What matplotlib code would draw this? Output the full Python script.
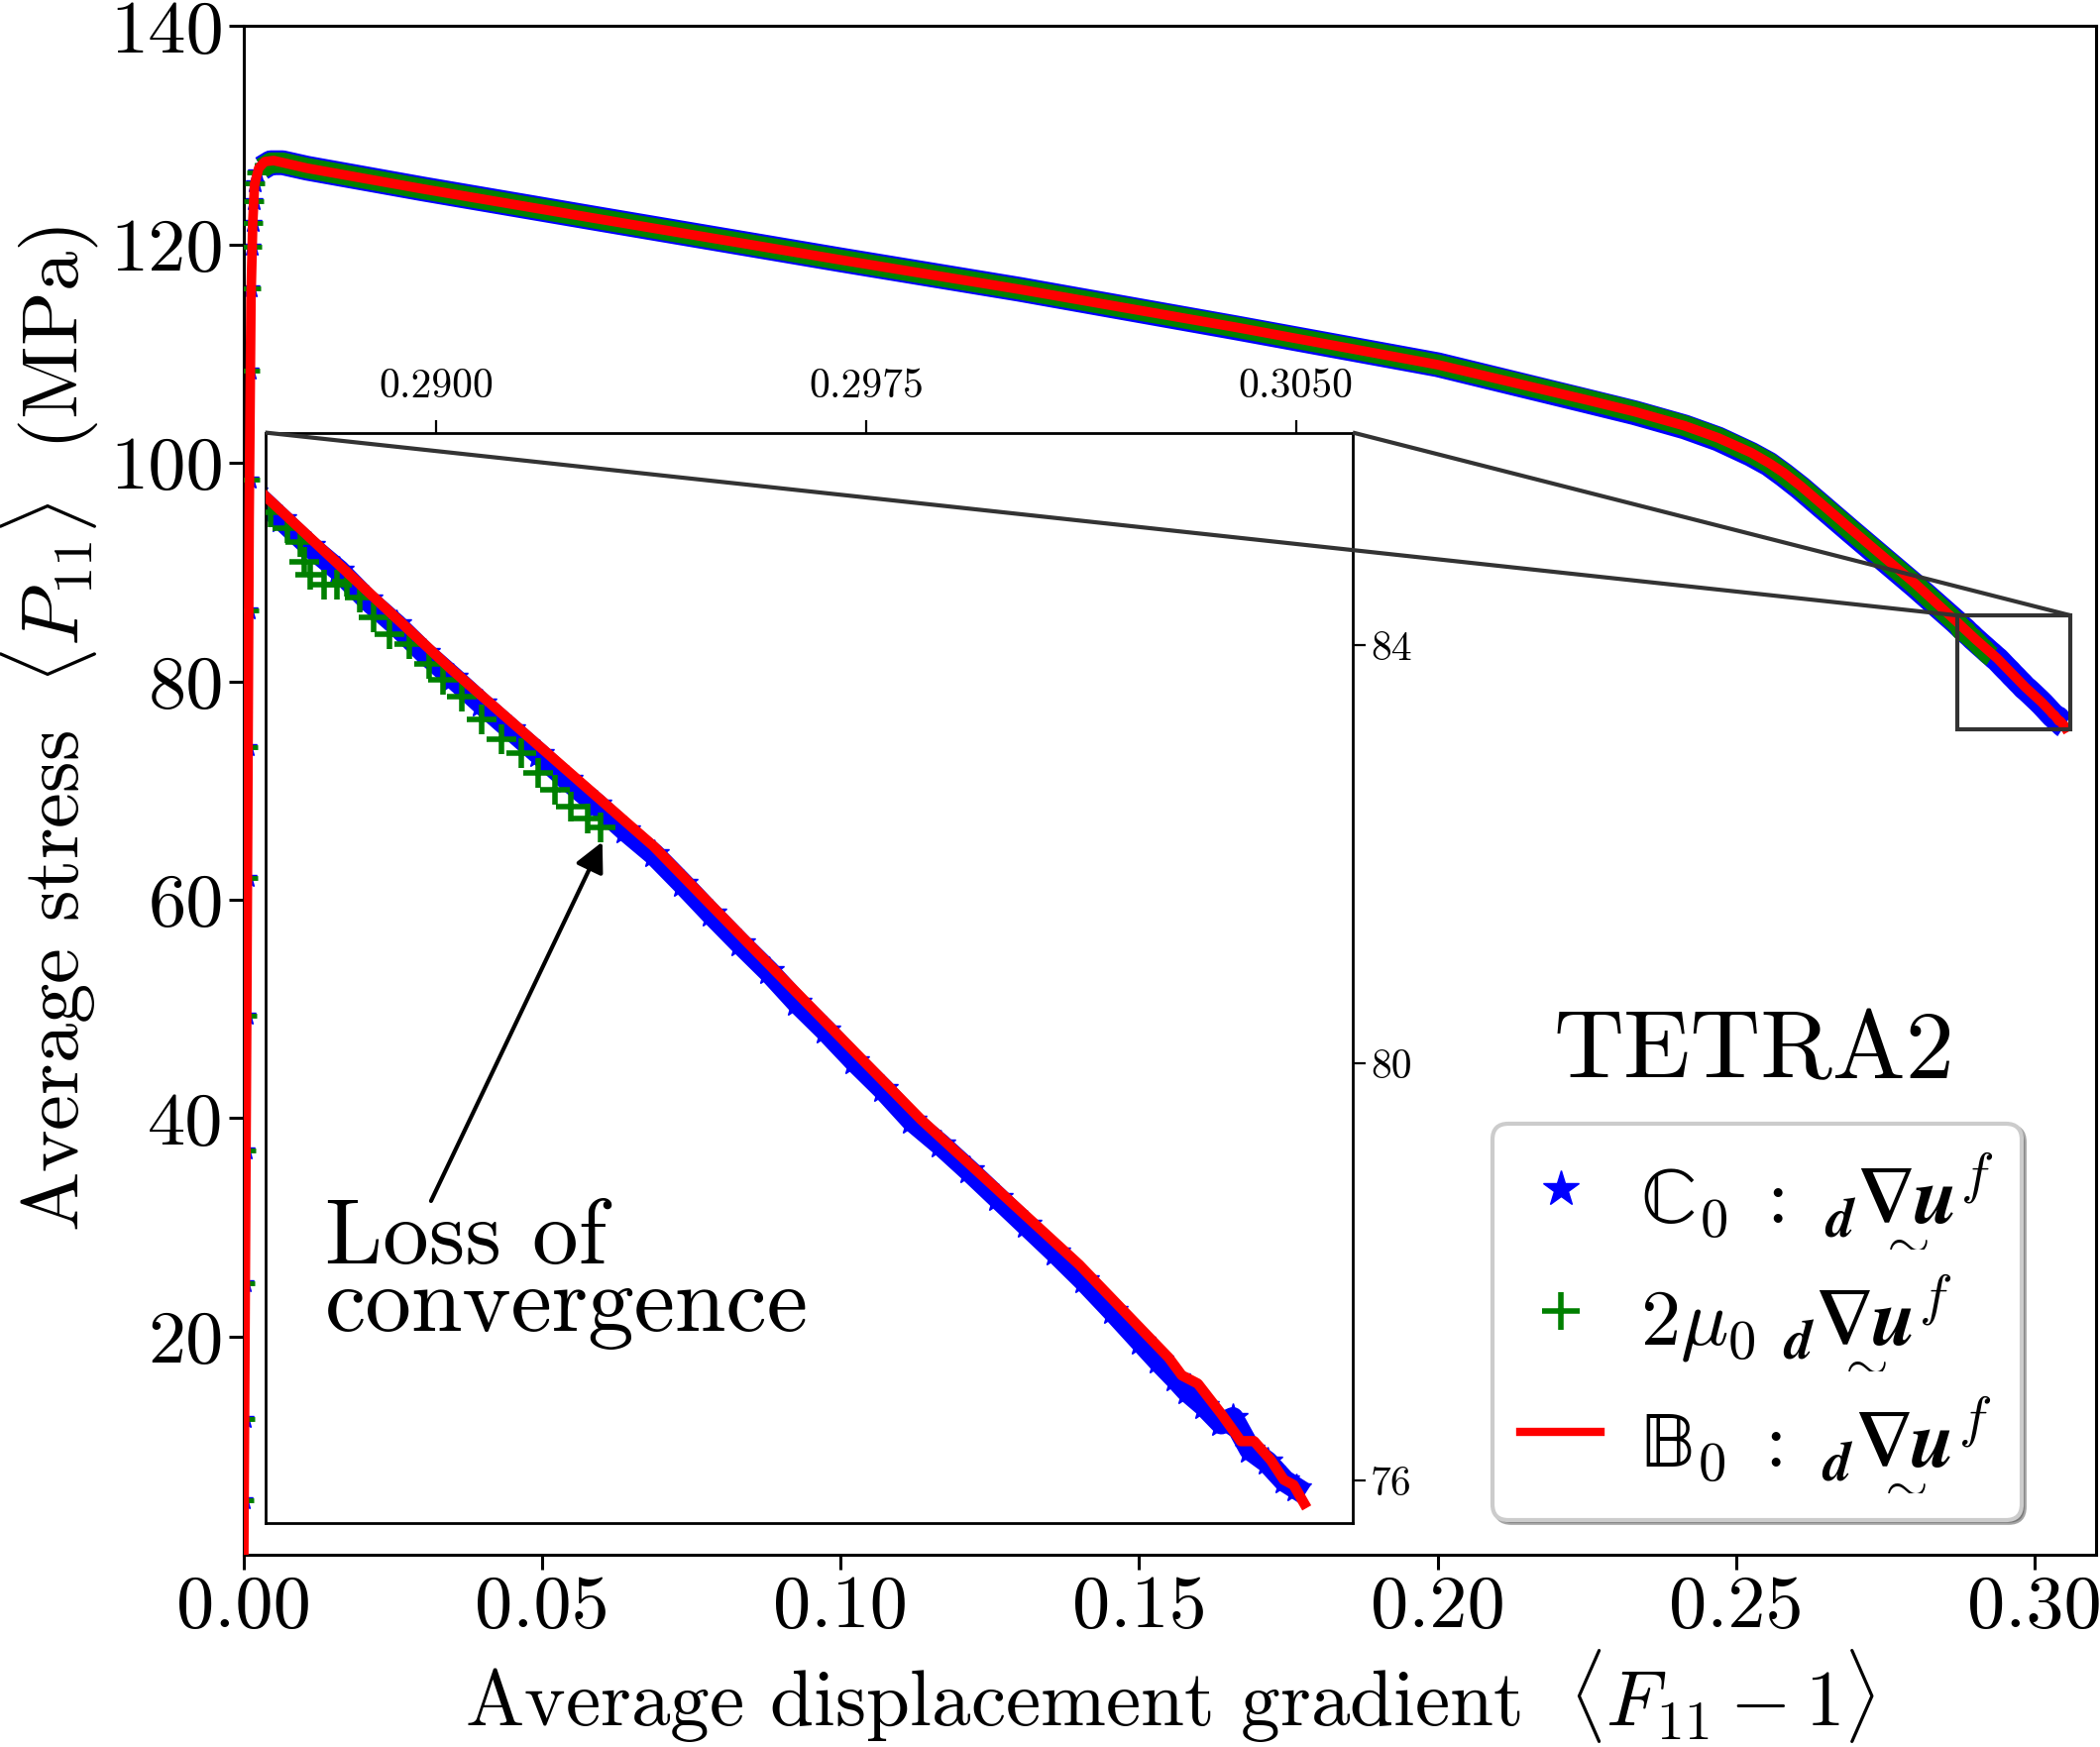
import matplotlib
matplotlib.use("Agg")
import matplotlib.pyplot as plt
from matplotlib.lines import Line2D
from matplotlib.ticker import FormatStrFormatter
from mpl_toolkits.axes_grid1.inset_locator import mark_inset

plt.rcParams['font.family'] = 'serif'
plt.rcParams['font.serif'] = ['cmr10']
plt.rcParams['mathtext.fontset'] = 'cm'
plt.rcParams['axes.formatter.use_mathtext'] = True

# ---------------- data ----------------
# elastic loading points, shown as separate markers for both marker series
eps_elastic = [0.00005, 0.00012, 0.00024, 0.00035, 0.00047, 0.00059, 0.00070,
               0.00082, 0.00094, 0.00106, 0.00122, 0.00133, 0.00145, 0.00160,
               0.00185, 0.00220]
sig_elastic = [5.0, 12.4, 24.9, 37.0, 49.4, 62.0, 74.0, 86.5, 98.5, 108.5,
               116.0, 119.8, 122.0, 124.0, 125.6, 126.6]

# C0 : d grad u  (blue stars), plastic part
x_C0 = [0.0030, 0.0045, 0.0065, 0.0106, 0.0300, 0.0600, 0.1000, 0.1300, 0.1660,
        0.2000, 0.2248, 0.2330, 0.2414, 0.2470, 0.2525, 0.2555, 0.2580, 0.2608,
        0.2691, 0.2801,
        0.2868, 0.2873, 0.2878, 0.2883, 0.2888, 0.2893, 0.2898, 0.2903, 0.2908,
        0.2913, 0.2918, 0.2923, 0.2928, 0.2933, 0.2938, 0.2943, 0.2948, 0.2953,
        0.2958, 0.2963, 0.2968, 0.2973, 0.2978, 0.2983, 0.2988, 0.2993, 0.2998,
        0.3003, 0.3008, 0.3013, 0.3018, 0.3023, 0.3026, 0.3029, 0.3031, 0.3034,
        0.3037, 0.3039, 0.3042, 0.3045, 0.3048, 0.3050]
y_C0 = [127.0, 127.5, 127.5, 127.0, 125.1, 122.3, 118.6, 115.9, 112.4,
        109.0, 105.7, 104.6, 103.3, 102.2, 100.8, 99.9, 98.9, 97.7,
        93.8, 88.7,
        85.47, 85.21, 84.95, 84.72, 84.44, 84.20, 83.93, 83.69, 83.44,
        83.20, 82.96, 82.71, 82.48, 82.23, 82.00, 81.72, 81.43, 81.15,
        80.88, 80.58, 80.31, 80.02, 79.75, 79.45, 79.22, 78.97, 78.71,
        78.45, 78.19, 77.92, 77.63, 77.33, 77.15, 76.98, 76.86, 76.72,
        76.55, 76.60, 76.30, 76.18, 76.00, 75.93]

# 2 mu0 d grad u  (green pluses), plastic part, stops at loss of convergence
x_mu = [0.0030, 0.0045, 0.0065, 0.0106, 0.0300, 0.0600, 0.1000, 0.1300, 0.1660,
        0.2000, 0.2248, 0.2330, 0.2414, 0.2470, 0.2525, 0.2555, 0.2580, 0.2608,
        0.2691, 0.2801,
        0.287116, 0.287404, 0.287634, 0.287693, 0.287807, 0.288038, 0.288268,
        0.288440, 0.288670, 0.288902, 0.289188, 0.289534, 0.289879, 0.290111,
        0.290456, 0.290801, 0.291147, 0.291492, 0.291779, 0.292067, 0.292356,
        0.292643, 0.292873]
y_mu = [127.0, 127.5, 127.5, 127.0, 125.1, 122.3, 118.6, 115.9, 112.45,
        109.0, 105.8, 104.7, 103.4, 102.3, 100.9, 100.0, 99.0, 97.8,
        93.9, 88.8,
        85.28, 85.12, 84.99, 84.80, 84.68, 84.58, 84.58,
        84.61, 84.46, 84.27, 84.11, 84.01, 83.82, 83.67,
        83.51, 83.29, 83.10, 82.97, 82.78, 82.62, 82.46,
        82.34, 82.26]

# B0 : d grad u  (red line)
x_B0 = [0.0, 0.0005, 0.0009, 0.0012, 0.0015, 0.0018, 0.0025, 0.0035, 0.0050,
        0.0106, 0.0300, 0.0600, 0.1000, 0.1300, 0.1660, 0.2000, 0.2248, 0.2330,
        0.2414, 0.2470, 0.2525, 0.2555, 0.2580, 0.2608, 0.2691, 0.2801,
        0.28706, 0.29023, 0.29379,
        0.29546, 0.29846, 0.30122, 0.30278, 0.30301, 0.30329, 0.30370, 0.30404,
        0.30427, 0.30456, 0.30479, 0.30496, 0.30519]
y_B0 = [0.0, 50.0, 95.0, 115.0, 122.0, 125.5, 127.0, 127.6, 127.7,
        127.0, 125.1, 122.3, 118.6, 115.9, 112.45, 109.0, 105.8, 104.7,
        103.4, 102.3, 100.95, 100.0, 99.1, 97.9, 94.0, 88.9,
        85.41, 83.79, 82.08,
        81.14, 79.46, 78.07, 77.18, 77.01, 76.93, 76.64, 76.38,
        76.38, 76.20, 76.01, 75.96, 75.74]

xticks_main = [0.00, 0.05, 0.10, 0.15, 0.20, 0.25, 0.30]
yticks_main = [20, 40, 60, 80, 100, 120, 140]
xticks_inset = [0.2900, 0.2975, 0.3050]
yticks_inset = [76, 80, 84]

labels = [r'$\mathrm{ℂ}_0\;:\;{}_{\mathbfit{d}}\underset{\sim}{\mathbf{∇}\mathbfit{u}}^{f}$',
          r'$2\mu_0\;{}_{\mathbfit{d}}\underset{\sim}{\mathbf{∇}\mathbfit{u}}^{f}$',
          r'$\mathrm{𝔹}_0\;:\;{}_{\mathbfit{d}}\underset{\sim}{\mathbf{∇}\mathbfit{u}}^{f}$']

# ---------------- figure ----------------
fig = plt.figure(figsize=(21.19, 17.63), dpi=100)
ax = fig.add_axes([0.11609, 0.11004, 0.88202, 0.87493])

# main curves
ax.plot(eps_elastic, sig_elastic, ls='none', marker='*', ms=14, color='blue', zorder=2)
ax.plot(eps_elastic, sig_elastic, ls='none', marker='+', ms=14, mew=3.5, color='green', zorder=3)
ax.plot(x_C0, y_C0, ls='-', lw=18, color='blue',
        solid_capstyle='butt', solid_joinstyle='round', zorder=2)
ax.plot(x_mu, y_mu, ls='-', lw=15, color='green',
        solid_capstyle='butt', solid_joinstyle='round', zorder=3)
ax.plot(x_B0, y_B0, ls='-', lw=7, color='red', solid_joinstyle='round', zorder=4)

ax.set_xlim(0.0, 0.3103)
ax.set_ylim(0, 140)
ax.set_xticks(xticks_main)
ax.set_yticks(yticks_main)
ax.xaxis.set_major_formatter(FormatStrFormatter('%.2f'))
ax.yaxis.set_major_formatter(FormatStrFormatter('%d'))
ax.tick_params(axis='both', which='major', labelsize=55, length=11, width=2.2,
               direction='out')
for s in ax.spines.values():
    s.set_linewidth(2.2)
ax.set_xlabel(r'Average displacement gradient $\;\langle F_{11}-1\rangle$', fontsize=57)
ax.set_ylabel(r'Average stress $\;\langle P_{11}\rangle\;$ (MPa)', fontsize=58)
ax.yaxis.set_label_coords(-0.077, 0.54)

ax.text(0.8154, 0.3118, 'TETRA2', transform=ax.transAxes, ha='center',
        va='baseline', fontsize=71)

handles = [Line2D([], [], ls='none', marker='*', ms=27, color='blue'),
           Line2D([], [], ls='none', marker='+', ms=27, mew=4, color='green'),
           Line2D([], [], ls='-', lw=6, color='red')]
leg = ax.legend(handles, labels, loc='lower right', bbox_to_anchor=(0.9599, 0.0227),
                borderaxespad=0, fontsize=58, fancybox=True, shadow=True,
                handlelength=1.0, handletextpad=0.5, labelspacing=0.3,
                borderpad=0.35, framealpha=1.0)
leg.get_frame().set_edgecolor('0.8')
leg.get_frame().set_linewidth(3)

# inset
axin = fig.add_axes([0.12629, 0.12847, 0.51789, 0.62393])
axin.plot(x_C0, y_C0, ls='-', lw=16, marker='*', ms=22, color='blue',
          solid_joinstyle='round', zorder=2)
axin.plot(x_mu, y_mu, ls='none', marker='+', ms=22, mew=4, color='green', zorder=3)
axin.plot(x_B0, y_B0, ls='-', lw=7.5, color='red', solid_joinstyle='round',
          solid_capstyle='butt', zorder=4)
axin.set_xlim(0.287017, 0.305993)
axin.set_ylim(75.60, 86.04)
axin.set_xticks(xticks_inset)
axin.set_yticks(yticks_inset)
axin.xaxis.set_major_formatter(FormatStrFormatter('%.4f'))
axin.yaxis.set_major_formatter(FormatStrFormatter('%d'))
axin.xaxis.tick_top()
axin.yaxis.tick_right()
axin.tick_params(axis='both', labelsize=30, length=9.5, width=1.6, direction='out')
axin.tick_params(axis='x', pad=10)
for s in axin.spines.values():
    s.set_linewidth(2.0)

mark_inset(ax, axin, loc1=2, loc2=1, fc='none', ec='0.2', lw=3, zorder=5)

axin.annotate('', xy=(0.2929, 82.12), xytext=(0.28991, 78.68),
              arrowprops=dict(arrowstyle='-|>', color='black', lw=3,
                              mutation_scale=45, shrinkA=0, shrinkB=0))
axin.text(0.28806, 78.70, 'Loss of\nconvergence', fontsize=67, ha='left',
          va='top', linespacing=0.78)

fig.savefig('out.png', dpi=100)
